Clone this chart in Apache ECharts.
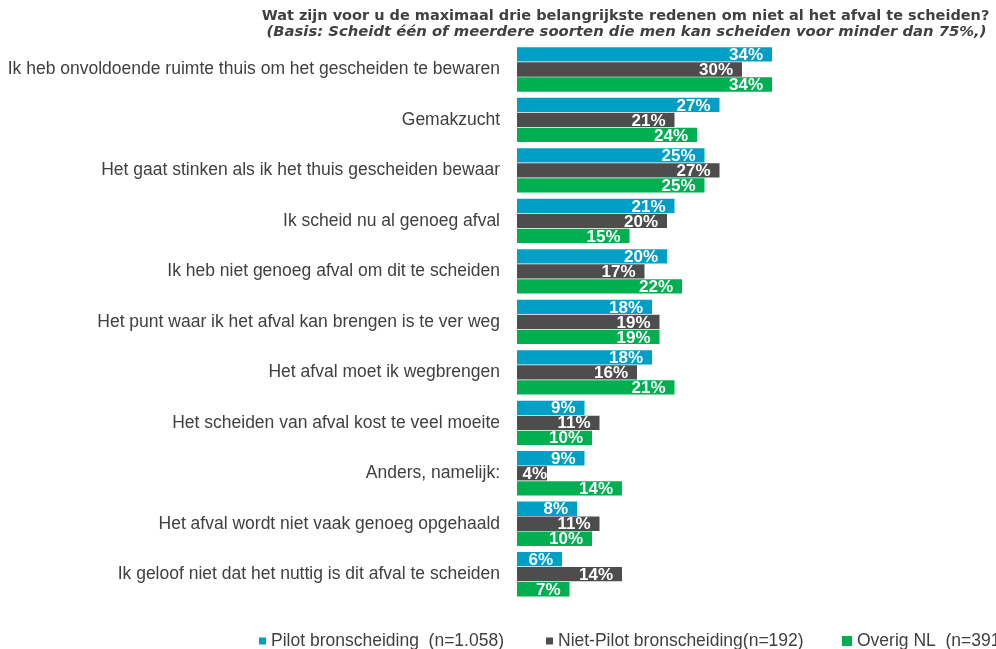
<!DOCTYPE html>
<html>
<head>
<meta charset="utf-8">
<script src="https://cdn.jsdelivr.net/npm/echarts@6/dist/echarts.min.js"></script>
<style>
html,body{margin:0;padding:0;background:#fff;}
#chart{width:996px;height:649px;}
</style>
</head>
<body>
<div id="chart"></div>
<script>
const titleText = 'Wat zijn voor u de maximaal drie belangrijkste redenen om niet al het afval te scheiden?';
const subtitleText = '(Basis: Scheidt één of meerdere soorten die men kan scheiden voor minder dan 75%,)';
const categories = [
  'Ik heb onvoldoende ruimte thuis om het gescheiden te bewaren',
  'Gemakzucht',
  'Het gaat stinken als ik het thuis gescheiden bewaar',
  'Ik scheid nu al genoeg afval',
  'Ik heb niet genoeg afval om dit te scheiden',
  'Het punt waar ik het afval kan brengen is te ver weg',
  'Het afval moet ik wegbrengen',
  'Het scheiden van afval kost te veel moeite',
  'Anders, namelijk:',
  'Het afval wordt niet vaak genoeg opgehaald',
  'Ik geloof niet dat het nuttig is dit afval te scheiden'
];
const seriesNames = ['Pilot bronscheiding  (n=1.058)', 'Niet-Pilot bronscheiding(n=192)', 'Overig NL  (n=391)'];
const pilot     = [34, 27, 25, 21, 20, 18, 18, 9, 9, 8, 6];
const nietPilot = [30, 21, 27, 20, 17, 19, 16, 11, 4, 11, 14];
const overig    = [34, 24, 25, 15, 22, 19, 21, 10, 14, 10, 7];
const colors = ['#009FC6', '#4D4D4D', '#00B050'];

const chart = echarts.init(document.getElementById('chart'));
const values = [pilot, nietPilot, overig];

function toData(arr) {
  return arr.map(v => v < 5 ? { value: v, label: { distance: 0 } } : v);
}

const series = values.map((arr, i) => ({
  name: seriesNames[i],
  type: 'bar',
  data: toData(arr),
  barWidth: 14.3,
  barGap: '5%',
  itemStyle: { color: colors[i] },
  label: {
    show: true,
    position: 'insideRight',
    distance: 9,
    offset: [0, 1],
    formatter: '{c}%',
    color: '#fff',
    fontWeight: 'bold',
    fontSize: 17,
    fontFamily: 'Liberation Sans, Arial, sans-serif'
  }
}));

const legendLefts = [259, 546, 842];
const legendIcon = [7, 7, 10];
const legends = seriesNames.map((n, i) => ({
  data: [n],
  left: legendLefts[i],
  top: 632,
  icon: 'rect',
  itemWidth: legendIcon[i],
  itemHeight: legendIcon[i],
  selectedMode: false,
  padding: 0,
  textStyle: { color: '#404040', fontSize: 17.5, fontFamily: 'Liberation Sans, Arial, sans-serif' }
}));

chart.setOption({
  animation: false,
  color: colors,
  legend: legends,
  grid: { left: 517, right: 179, top: 44.25, height: 555.2, containLabel: false },
  xAxis: {
    type: 'value', min: 0, max: 40, show: false
  },
  yAxis: {
    type: 'category',
    inverse: true,
    data: categories,
    axisLine: { show: false },
    axisTick: { show: false },
    axisLabel: {
      margin: 17,
      color: '#404040',
      fontSize: 17.5,
      fontFamily: 'Liberation Sans, Arial, sans-serif'
    }
  },
  graphic: [
    { type: 'text', x: 625.5, y: 16, style: { text: titleText, textAlign: 'center', textVerticalAlign: 'middle', fill: '#404040', font: 'bold 14.5px "DejaVu Sans"' } },
    { type: 'text', x: 626.5, y: 32, style: { text: subtitleText, textAlign: 'center', textVerticalAlign: 'middle', fill: '#404040', font: 'italic bold 14.8px "DejaVu Sans"' } }
  ],
  series: series
});
</script>
</body>
</html>
